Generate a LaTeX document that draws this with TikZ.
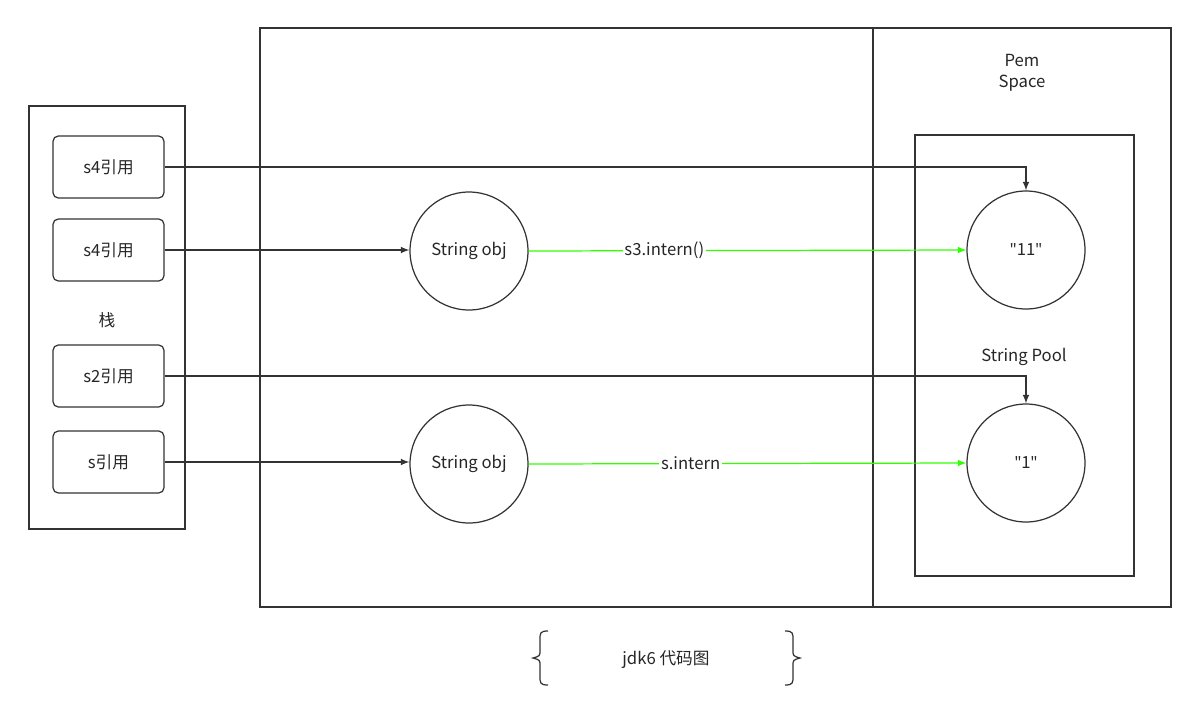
\documentclass[tikz,border=0pt]{standalone}
\usepackage{fontspec}
\setmainfont{Noto Sans CJK SC}
\newfontfamily\latf{Noto Sans}
\newcommand{\dq}{{\latf\char34}}
\begin{document}
\begin{tikzpicture}[x=0.02cm,y=-0.02cm,
  box/.style={draw=black!80,line width=0.7pt},
  ref/.style={draw=black!80,line width=0.7pt,rounded corners=3pt,minimum width=2.22cm,minimum height=1.24cm,inner sep=0pt},
  obj/.style={draw=black!80,line width=0.7pt,circle,minimum size=2.36cm,inner sep=0pt},
  lbl/.style={font=\fontsize{9.5}{12}\selectfont,text=black!85},
  arr/.style={draw=black!80,line width=0.7pt,-latex},
  garr/.style={draw=green!75!lime,line width=0.7pt,-latex}]
\useasboundingbox (0,0) rectangle (1200,714);
\draw[box] (29,106) rectangle (185,529);
\draw[box] (260,28) rectangle (873,607);
\draw[box] (873,28) rectangle (1171,607);
\draw[box] (915,135) rectangle (1134,576);
\node[lbl] (zhan) at (107,320) {栈};
\node[lbl,align=center] (pem) at (1022,73) {Pem\\Space};
\node[lbl] (pool) at (1024,357) {String Pool};
\node[ref,lbl] (r1) at (108.5,167) {s4引用};
\node[ref,lbl] (r2) at (108.5,250) {s4引用};
\node[ref,lbl] (r3) at (108.5,376) {s2引用};
\node[ref,lbl] (r4) at (108.5,462) {s引用};
\node[obj,lbl] (o1) at (469,251) {String obj};
\node[obj,lbl] (o2) at (469,464) {String obj};
\node[obj,lbl] (c1) at (1026,250) {\dq11\dq};
\node[obj,lbl] (c2) at (1026,463) {\dq1\dq};
\draw[arr] (r1.east) -- (1026,167) -- (c1.north);
\draw[arr] (r2.east) -- (o1.west|-r2.east);
\draw[arr] (r3.east) -- (1026,376) -- (c2.north);
\draw[arr] (r4.east) -- (o2.west|-r4.east);
\draw[garr] (o1.east) -- node[lbl,fill=white,inner sep=1pt,pos=0.31] {s3.intern()} (c1.west);
\draw[garr] (o2.east) -- node[lbl,fill=white,inner sep=1pt,pos=0.37] {s.intern} (c2.west);
\draw[black!80,line width=0.7pt] (548,631) .. controls (540,631) and (540,633) .. (540,640) -- (540,650) .. controls (540,656) .. (533,658) .. controls (540,660) .. (540,666) -- (540,676) .. controls (540,683) and (540,685) .. (548,685);
\draw[black!80,line width=0.7pt] (785,631) .. controls (793,631) and (793,633) .. (793,640) -- (793,650) .. controls (793,656) .. (800,658) .. controls (793,660) .. (793,666) -- (793,676) .. controls (793,683) and (793,685) .. (785,685);
\node[lbl] (cap) at (666,660) {jdk6 代码图};
\end{tikzpicture}
\end{document}
